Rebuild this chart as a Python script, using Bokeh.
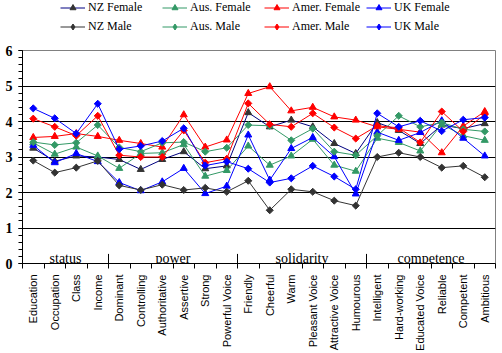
import math
from bokeh.plotting import figure
from bokeh.layouts import column
from bokeh.models import Range1d, FixedTicker, Legend, LegendItem
from bokeh.core.properties import value
from bokeh.embed import file_html
from bokeh.resources import INLINE

# ---------------- data ----------------
categories = ["Education", "Occupation", "Class", "Income",
              "Dominant", "Controlling", "Authoritative", "Assertive", "Strong", "Powerful Voice",
              "Friendly", "Cheerful", "Warm", "Pleasant Voice", "Attractive Voice", "Humourous",
              "Intelligent", "Hard-working", "Educated Voice", "Reliable", "Competent", "Ambitious"]
groups = ["status", "power", "solidarity", "competence"]
group_sizes = [4, 6, 6, 6]

nz_female = [3.25, 2.88, 3.03, 3.00, 2.93, 2.65, 2.93, 3.15, 2.67, 2.75, 4.25, 3.85, 4.04, 3.85, 3.38, 3.10, 3.97, 3.75, 3.38, 3.90, 3.80, 3.94]
aus_female = [3.40, 3.08, 3.28, 3.03, 2.68, 3.10, 3.12, 3.35, 2.46, 2.62, 3.31, 2.77, 3.03, 3.50, 2.77, 2.60, 3.53, 3.41, 3.17, 3.92, 3.60, 3.47]
amer_female = [3.55, 3.58, 3.66, 3.58, 3.47, 3.38, 3.28, 4.19, 3.28, 3.48, 4.79, 4.98, 4.30, 4.40, 4.13, 4.04, 3.85, 3.78, 3.70, 3.12, 3.87, 4.28]
uk_female = [3.33, 2.84, 3.10, 2.87, 2.28, 2.05, 2.30, 2.68, 1.97, 2.18, 3.62, 2.35, 3.24, 3.55, 3.01, 1.96, 3.70, 3.47, 3.69, 4.02, 3.53, 3.03]
nz_male = [2.90, 2.56, 2.70, 2.89, 2.20, 2.07, 2.22, 2.07, 2.13, 2.02, 2.33, 1.50, 2.09, 2.02, 1.77, 1.63, 3.00, 3.12, 3.00, 2.70, 2.75, 2.43]
aus_male = [3.42, 3.34, 3.40, 3.90, 3.27, 3.15, 3.40, 3.42, 3.15, 3.26, 3.90, 3.88, 3.47, 3.80, 3.15, 3.05, 3.60, 4.16, 3.85, 3.97, 3.78, 3.72]
amer_male = [4.08, 3.85, 3.60, 4.16, 3.05, 3.00, 3.00, 3.75, 2.84, 2.95, 4.51, 3.92, 3.85, 4.23, 3.83, 3.52, 3.88, 3.82, 3.41, 4.28, 3.72, 4.20]
uk_male = [4.37, 4.09, 3.66, 4.50, 3.22, 3.31, 3.45, 3.81, 2.76, 2.87, 2.67, 2.28, 2.40, 2.75, 2.45, 2.09, 4.23, 3.85, 4.02, 3.73, 4.05, 4.11]

y_ticks = [0, 1, 2, 3, 4, 5, 6]

series = [
    ("NZ Female", nz_female, "#000080", "#333333", "triangle"),
    ("Aus. Female", aus_female, "#339966", "#339966", "triangle"),
    ("Amer. Female", amer_female, "#FF0000", "#FF0000", "triangle"),
    ("UK Female", uk_female, "#0000FF", "#0000FF", "triangle"),
    ("NZ Male", nz_male, "#333333", "#333333", "diamond"),
    ("Aus. Male", aus_male, "#339966", "#339966", "diamond"),
    ("Amer. Male", amer_male, "#FF0000", "#FF0000", "diamond"),
    ("UK Male", uk_male, "#0000FF", "#0000FF", "diamond"),
]

n = len(categories)
xs = list(range(n))


def draw_series(fig, x, y, lc, mc, mk, for_legend=False):
    lr = fig.line(x, y, line_color=lc, line_width=1)
    if mk == "triangle":
        sr = fig.scatter(x, y, marker="triangle", size=7, fill_color=mc, line_color=mc)
    elif for_legend:
        sr = fig.scatter(x, y, marker="diamond", size=8, fill_color=mc, line_color=mc)
    else:
        sr = fig.scatter(x, y, marker="square", size=5, angle=math.pi / 4,
                         fill_color=mc, line_color=mc)
    return lr, sr


# ---------------- legend strip (its own series lie outside its visible range) ----------------
LEG_H = 40
lf = figure(width=502, height=LEG_H, output_backend="svg", toolbar_location=None,
            x_range=Range1d(-0.5, n - 0.5), y_range=Range1d(0, 1),
            x_axis_location=None, y_axis_location=None,
            min_border_left=0, min_border_right=0, min_border_top=0, min_border_bottom=0)
lf.outline_line_color = None
lf.grid.visible = False
lf.background_fill_color = "white"
lf.border_fill_color = "white"

items = []
for name, vals, lc, mc, mk in series:
    lr, sr = draw_series(lf, xs, vals, lc, mc, mk, for_legend=True)
    items.append(LegendItem(label=name, renderers=[lr, sr]))

legend = Legend(items=items, orientation="horizontal", ncols=4,
                location=(38, 4), background_fill_alpha=0, border_line_alpha=0,
                padding=0, margin=0, spacing=0, glyph_width=25, glyph_height=15,
                label_height=19, label_width=74, label_standoff=3,
                label_text_font="Liberation Serif", label_text_font_size="12px",
                label_text_color="black")
lf.add_layout(legend)

# ---------------- main chart ----------------
p = figure(width=502, height=353 - LEG_H, output_backend="svg", toolbar_location=None,
           x_range=Range1d(-0.5, n - 0.5), y_range=Range1d(y_ticks[0], y_ticks[-1]),
           min_border_left=22, min_border_right=7, min_border_top=50 - LEG_H,
           min_border_bottom=90)
p.background_fill_color = "white"
p.border_fill_color = "white"
p.outline_line_color = "#808080"
p.outline_line_width = 1

p.xgrid.visible = False
p.ygrid.ticker = FixedTicker(ticks=y_ticks[1:-1])
p.ygrid.grid_line_color = "black"
p.ygrid.grid_line_width = 1

xa = p.xaxis[0]
xa.ticker = FixedTicker(ticks=xs, minor_ticks=[i - 0.5 for i in range(n + 1)])
xa.major_label_overrides = {i: c for i, c in enumerate(categories)}
xa.major_label_orientation = math.pi / 2
xa.major_label_text_font = "Liberation Sans"
xa.major_label_text_font_size = "11px"
xa.major_label_text_color = "black"
xa.major_label_standoff = 6
xa.major_tick_out = 0
xa.major_tick_in = 0
xa.minor_tick_out = 5
xa.minor_tick_in = 0
xa.minor_tick_line_color = "black"
xa.axis_line_color = "black"

ya = p.yaxis[0]
ya.ticker = FixedTicker(ticks=y_ticks, minor_ticks=[round(i * 0.2, 1) for i in range(31)])
ya.major_label_text_font = "Liberation Serif"
ya.major_label_text_font_size = "14px"
ya.major_label_text_font_style = "bold"
ya.major_label_text_color = "black"
ya.major_label_standoff = 6
ya.major_tick_out = 4
ya.major_tick_in = 0
ya.minor_tick_out = 4
ya.minor_tick_in = 0
ya.major_tick_line_color = "black"
ya.minor_tick_line_color = "black"
ya.axis_line_color = "black"

for name, vals, lc, mc, mk in series:
    draw_series(p, xs, vals, lc, mc, mk)

starts = [sum(group_sizes[:i]) for i in range(len(group_sizes))]
centers = [s + (g - 1) / 2 for s, g in zip(starts, group_sizes)]
bounds = [s - 0.5 for s in starts[1:]]
p.text(x=centers, y=[0.15] * len(groups), text=groups,
       text_font=value("Liberation Serif"), text_font_size="14px",
       text_align="center", text_baseline="alphabetic", text_color="black")
p.segment(x0=bounds, y0=[0] * len(bounds), x1=bounds, y1=[0.27] * len(bounds),
          line_color="black", line_width=1)

layout = column(lf, p, spacing=0)
open("out.html", "w").write(file_html(layout, INLINE))
